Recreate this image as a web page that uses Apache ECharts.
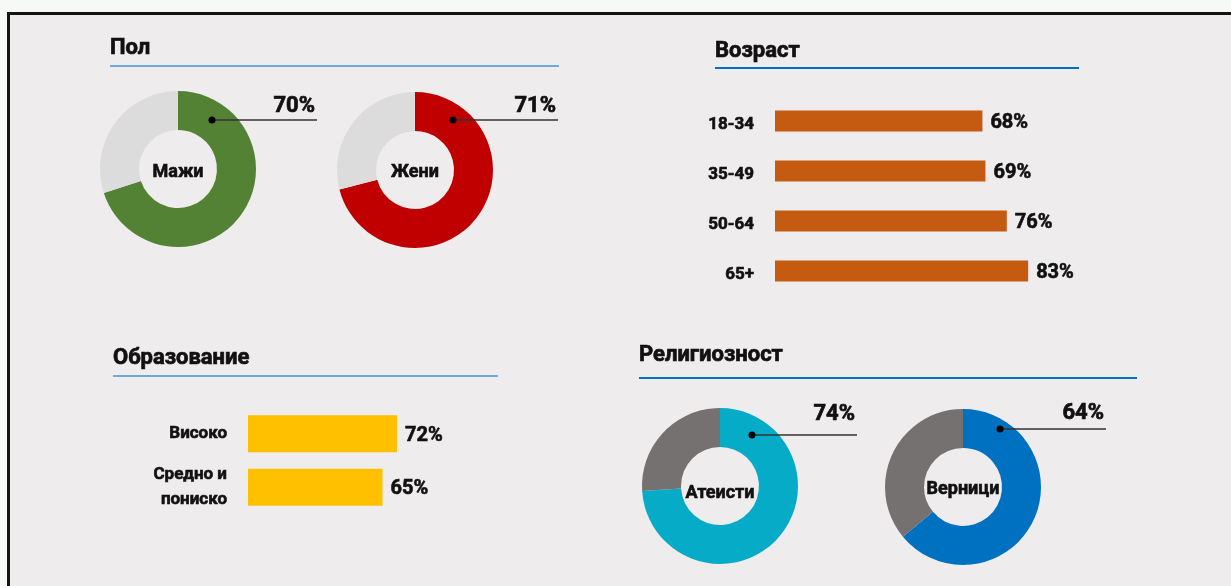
<!DOCTYPE html>
<html>
<head>
<meta charset="utf-8">
<script src="https://cdn.jsdelivr.net/npm/echarts@6/dist/echarts.min.js"></script>
<style>
html, body { margin: 0; padding: 0; background: #f7f9f7; }
#main { width: 1231px; height: 586px; }
</style>
</head>
<body>
<div id="main"></div>
<script>
var sexNames = ['Мажи', 'Жени'];
var sexValues = [70, 71];
var ageGroups = ['18-34', '35-49', '50-64', '65+'];
var ageValues = [68, 69, 76, 83];
var eduGroups = ['Високо', 'Средно и\nпониско'];
var eduValues = [72, 65];
var religNames = ['Атеисти', 'Верници'];
var religValues = [74, 64];

var FONT = 'Roboto, "Noto Sans", sans-serif';
var TXT = '#111';
var HEAVY = { textBorderColor: TXT, textBorderWidth: 0.6 };

var dom = document.getElementById('main');
var myChart = echarts.init(dom);

// layout of the four donuts (center, colors, leader line offsets)
var donuts = [
    { name: sexNames[0], value: sexValues[0], c: [178, 169], col: '#548235', rest: '#dcdcdd', dot: [34, -49], end: 139, ty: -14, dy: 3 },
    { name: sexNames[1], value: sexValues[1], c: [415, 170], col: '#c00000', rest: '#dcdcdd', dot: [38, -50], end: 143, ty: -14, dy: 2 },
    { name: religNames[0], value: religValues[0], c: [720, 486], col: '#06acc7', rest: '#767171', dot: [32, -51], end: 137, ty: -21, dy: 7 },
    { name: religNames[1], value: religValues[1], c: [963, 487], col: '#0070c0', rest: '#767171', dot: [37, -58], end: 143, ty: -16, dy: 2 }
];

var series = [];
var graphic = [{
    type: 'rect', z: -10, silent: true,
    shape: { x: 8.5, y: 13.5, width: 1260, height: 600 },
    style: { fill: '#eeeced', stroke: '#151515', lineWidth: 3 }
}];

donuts.forEach(function (d) {
    series.push({
        type: 'pie',
        center: d.c,
        radius: [39, 78],
        startAngle: 90,
        clockwise: true,
        silent: true,
        label: { show: false },
        labelLine: { show: false },
        data: [
            { value: d.value, name: d.name, itemStyle: { color: d.col },
              label: echarts.util.extend({ show: true, position: 'center', formatter: '{b}', offset: [0, d.dy], fontFamily: FONT, fontWeight: 'bold', fontSize: 18, color: TXT }, HEAVY) },
            { value: 100 - d.value, name: 'rest', itemStyle: { color: d.rest } }
        ]
    });
    var dx = d.c[0] + d.dot[0], dy = d.c[1] + d.dot[1];
    graphic.push({
        type: 'line', silent: true, z: 10,
        shape: { x1: dx, y1: dy, x2: d.c[0] + d.end, y2: dy },
        style: { stroke: '#333', lineWidth: 1.5 }
    });
    graphic.push({
        type: 'circle', silent: true, z: 11,
        shape: { cx: dx, cy: dy, r: 3.5 },
        style: { fill: '#000' }
    });
    graphic.push({
        type: 'text', silent: true, z: 11,
        x: d.c[0] + d.end - 2, y: dy + d.ty,
        style: { text: d.value + '%', align: 'right', verticalAlign: 'middle', font: 'bold 22px ' + FONT, fill: TXT, stroke: TXT, lineWidth: 0.7 }
    });
});

// section titles with underline
[
    { t: 'Пол', x: 110, y: 48, ly: 66, lx2: 559, col: '#6fa8dc' },
    { t: 'Возраст', x: 715, y: 51, ly: 68, lx2: 1079, col: '#0070c0' },
    { t: 'Образование', x: 113, y: 358, ly: 376, lx2: 498, col: '#6fa8dc' },
    { t: 'Религиозност', x: 639, y: 355, ly: 378, lx2: 1137, col: '#0070c0' }
].forEach(function (s) {
    graphic.push({
        type: 'text', silent: true,
        x: s.x, y: s.y,
        style: { text: s.t, verticalAlign: 'middle', font: 'bold 22px ' + FONT, fill: TXT, stroke: TXT, lineWidth: 0.7 }
    });
    graphic.push({
        type: 'line', silent: true,
        shape: { x1: s.x, y1: s.ly, x2: s.lx2, y2: s.ly },
        style: { stroke: s.col, lineWidth: 2 }
    });
});

function catAxis(idx, data, showLabels) {
    return {
        type: 'category', gridIndex: idx, data: data, inverse: true,
        axisLine: { show: false }, axisTick: { show: false }, splitLine: { show: false },
        axisLabel: echarts.util.extend({ show: showLabels, margin: 21, fontFamily: FONT, fontWeight: 'bold', fontSize: 17, color: TXT, lineHeight: 25 }, HEAVY)
    };
}
function valAxis(idx) {
    return { type: 'value', gridIndex: idx, min: 0, max: 100, show: false };
}
var barLabel = echarts.util.extend({ show: true, position: 'right', distance: 8, offset: [0, 2], formatter: '{c}%', fontFamily: FONT, fontWeight: 'bold', fontSize: 20, color: TXT }, HEAVY);

series.push({
    type: 'bar', xAxisIndex: 0, yAxisIndex: 0, silent: true,
    data: ageValues, barWidth: 21,
    itemStyle: { color: '#c55a11' },
    label: barLabel
});
// transparent twin of the age bars carrying the group names (set a little lower, as in the slide)
series.push({
    type: 'bar', xAxisIndex: 0, yAxisIndex: 0, silent: true,
    data: ageValues, barWidth: 21, barGap: '-100%', z: 1,
    itemStyle: { color: 'rgba(0,0,0,0)' },
    label: echarts.util.extend({ show: true, position: 'left', distance: 21, offset: [0, 4], formatter: '{b}', fontFamily: FONT, fontWeight: 'bold', fontSize: 17, color: TXT }, HEAVY)
});
series.push({
    type: 'bar', xAxisIndex: 1, yAxisIndex: 1, silent: true,
    data: eduValues, barWidth: 37,
    itemStyle: { color: '#ffc000' },
    label: barLabel
});

var option = {
    animation: false,
    grid: [
        { left: 775, top: 96, width: 305, height: 200 },
        { left: 248, top: 407, width: 207, height: 107 }
    ],
    xAxis: [valAxis(0), valAxis(1)],
    yAxis: [catAxis(0, ageGroups, false), catAxis(1, eduGroups, true)],
    graphic: graphic,
    series: series
};

myChart.setOption(option, true);
</script>
</body>
</html>
